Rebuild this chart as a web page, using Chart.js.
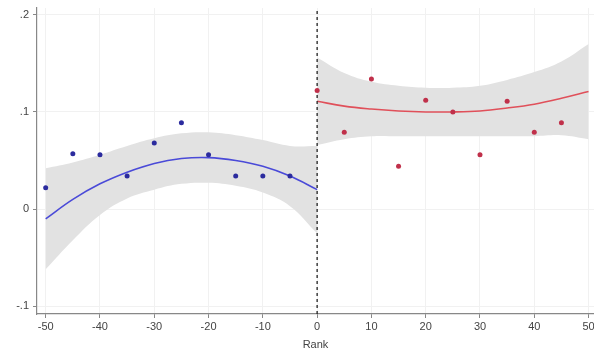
<!DOCTYPE html>
<html><head><meta charset="utf-8">
<script src="https://cdn.jsdelivr.net/npm/chart.js@4/dist/chart.umd.min.js"></script>
<style>html,body{margin:0;padding:0;background:#fff;}canvas{display:block;}</style>
</head><body>
<canvas id="c" width="594" height="354"></canvas>
<script>
// ---- data ----
const xTicks = [-50, -40, -30, -20, -10, 0, 10, 20, 30, 40, 50];
const yTicks = [-0.1, 0, 0.1, 0.2];
const yTickLabels = ['-.1', '0', '.1', '.2'];
const xTitle = 'Rank';

const blueX = [-50, -45, -40, -35, -30, -25, -20, -15, -10, -5];
const blueY = [0.022, 0.057, 0.056, 0.034, 0.068, 0.089, 0.056, 0.034, 0.034, 0.034];
const redX = [0, 5, 10, 15, 20, 25, 30, 35, 40, 45];
const redY = [0.122, 0.079, 0.134, 0.044, 0.112, 0.100, 0.056, 0.111, 0.079, 0.089];

const leftFitX = [-50, -45, -40, -35, -30, -25, -20, -15, -10, -5, 0];
const leftFit = [-0.010, 0.010, 0.026, 0.038, 0.047, 0.052, 0.053, 0.050, 0.044, 0.034, 0.020];
const leftUpper = [0.042, 0.048, 0.056, 0.065, 0.073, 0.078, 0.079, 0.076, 0.071, 0.065, 0.065];
const leftLower = [-0.062, -0.032, -0.006, 0.011, 0.020, 0.026, 0.027, 0.024, 0.017, 0.003, -0.025];

const rightFitX = [0, 5, 10, 15, 20, 25, 30, 35, 40, 45, 50];
const rightFit = [0.111, 0.106, 0.103, 0.101, 0.100, 0.100, 0.101, 0.104, 0.108, 0.114, 0.121];
const rightUpper = [0.156, 0.140, 0.131, 0.127, 0.125, 0.125, 0.127, 0.133, 0.141, 0.152, 0.170];
const rightLower = [0.066, 0.072, 0.075, 0.075, 0.075, 0.075, 0.075, 0.075, 0.075, 0.076, 0.072];

const xMin = -51.6, xMax = 51.0;
const yMin = -0.108, yMax = 0.207;
const cutoff = 0;

// ---- build ----
const pts = (xs, ys) => xs.map((x, i) => ({x: x, y: ys[i]}));
const FONT = {family: '"Liberation Sans", Arial, sans-serif', size: 11};
const BAND = '#e2e2e2';

const datasets = [
  {label: 'blue pts', data: pts(blueX, blueY), showLine: false, pointRadius: 2.5, pointBorderWidth: 0, backgroundColor: '#2b2b9e', borderColor: '#2b2b9e'},
  {label: 'red pts', data: pts(redX, redY), showLine: false, pointRadius: 2.5, pointBorderWidth: 0, backgroundColor: '#c0304a', borderColor: '#c0304a'},
  {label: 'cut', data: [{x: cutoff, y: yMin}, {x: cutoff, y: yMax}], showLine: true, pointRadius: 0, borderColor: '#222', borderWidth: 1.3, borderDash: [3, 3], fill: false},
  {label: 'blue fit', data: pts(leftFitX, leftFit), showLine: true, pointRadius: 0, borderColor: '#4a4ad8', borderWidth: 1.6, tension: 0.4, fill: false},
  {label: 'red fit', data: pts(rightFitX, rightFit), showLine: true, pointRadius: 0, borderColor: '#e0505a', borderWidth: 1.6, tension: 0.4, fill: false},
  {label: 'blue up', data: pts(leftFitX, leftUpper), showLine: true, pointRadius: 0, borderWidth: 0, borderColor: BAND, backgroundColor: BAND, tension: 0.4, fill: {target: 6}},
  {label: 'blue lo', data: pts(leftFitX, leftLower), showLine: true, pointRadius: 0, borderWidth: 0, borderColor: BAND, backgroundColor: BAND, tension: 0.4, fill: false},
  {label: 'red up', data: pts(rightFitX, rightUpper), showLine: true, pointRadius: 0, borderWidth: 0, borderColor: BAND, backgroundColor: BAND, tension: 0.4, fill: {target: 8}},
  {label: 'red lo', data: pts(rightFitX, rightLower), showLine: true, pointRadius: 0, borderWidth: 0, borderColor: BAND, backgroundColor: BAND, tension: 0.4, fill: false}
];

new Chart(document.getElementById('c'), {
  type: 'scatter',
  data: {datasets: datasets},
  options: {
    responsive: false,
    animation: false,
    events: [],
    layout: {autoPadding: false, padding: {top: 8, right: 0, left: 0, bottom: 0}},
    plugins: {legend: {display: false}, tooltip: {enabled: false}},
    scales: {
      x: {
        type: 'linear', min: xMin, max: xMax,
        afterBuildTicks: s => { s.ticks = xTicks.map(v => ({value: v})); },
        afterFit: s => { s.height = 40; s.paddingLeft = 0; s.paddingRight = 0; },
        ticks: {font: FONT, color: '#444', padding: 2, maxRotation: 0, autoSkip: false, callback: v => String(v)},
        grid: {color: '#f1f1f1', lineWidth: 1, tickLength: 4, tickColor: '#888'},
        border: {display: true, color: '#888', width: 1.2},
        title: {display: true, text: xTitle, font: FONT, color: '#444', padding: {top: 0, bottom: 2}}
      },
      y: {
        type: 'linear', min: yMin, max: yMax,
        afterBuildTicks: s => { s.ticks = yTicks.map(v => ({value: v})); },
        afterFit: s => { s.width = 37; s.paddingTop = 0; s.paddingBottom = 0; },
        ticks: {font: FONT, color: '#444', padding: 4, callback: (v) => { const i = yTicks.findIndex(t => Math.abs(t - v) < 1e-9); return i >= 0 ? yTickLabels[i] : ''; }},
        grid: {color: '#f1f1f1', lineWidth: 1, tickLength: 4, tickColor: '#888'},
        border: {display: true, color: '#888', width: 1.2}
      }
    }
  }
});
</script>
</body></html>
